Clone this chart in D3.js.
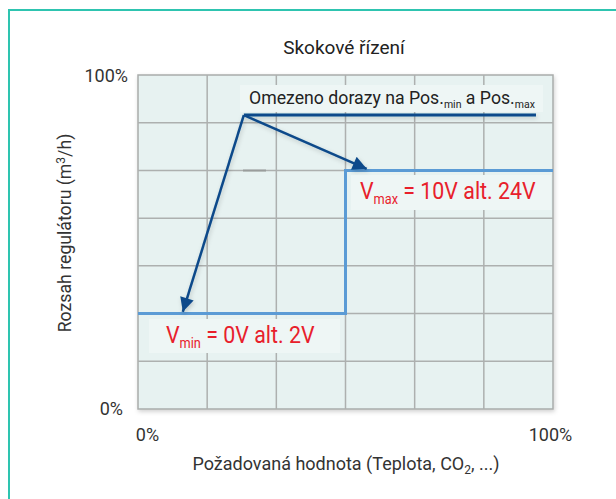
<!DOCTYPE html>
<html>
<head>
<meta charset="utf-8">
<script src="https://cdn.jsdelivr.net/npm/d3@7"></script>
<style>
  body { margin: 0; background: #fff; }
  svg { display: block; font-family: Roboto, "Noto Sans", sans-serif; }
</style>
</head>
<body>
<div id="chart"></div>
<script>
'use strict';

// data (percent of range)
var xTickLabels = ["0%", "100%"];
var yTickLabels = ["0%", "100%"];
var xGridCount = 6;
var yGridCount = 7;
var stepX = [0, 50, 50, 100];
var stepY = [28.6, 28.6, 71.4, 71.4];
var limitX = [25.5, 95.9];
var limitY = [88, 88];
var arrowFrom = [25.5, 88];
var arrowTo = [[10.8, 29.1], [55.1, 71.9]];

function stepChart() {
    var scope = {};
    scope.w = 616;
    scope.h = 499;
    scope.plot = {left: 138, top: 75, right: 553, bottom: 409};
    scope.xScale = d3.scaleLinear().domain([0, 100]).range([scope.plot.left, scope.plot.right]);
    scope.yScale = d3.scaleLinear().domain([0, 100]).range([scope.plot.bottom, scope.plot.top]);

    scope.appendSvg = function(div) {
        var svg = d3.select(div).append("svg")
            .attr("width", scope.w)
            .attr("height", scope.h);
        var defs = svg.append("defs");
        var f = defs.append("filter").attr("id", "shadow")
            .attr("x", "-20%").attr("y", "-20%").attr("width", "140%").attr("height", "160%");
        f.append("feDropShadow").attr("dx", 1).attr("dy", 2).attr("stdDeviation", 2)
            .attr("flood-color", "#000").attr("flood-opacity", 0.18);
        var m = defs.append("marker").attr("id", "arrow")
            .attr("viewBox", "0 0 10 10").attr("refX", 10).attr("refY", 5)
            .attr("markerWidth", 8).attr("markerHeight", 5.6)
            .attr("markerUnits", "strokeWidth")
            .attr("orient", "auto");
        m.append("path").attr("d", "M0,0L10,5L0,10Z").attr("fill", "#0b4a8a");
        return svg;
    };

    scope.appendFrame = function(svg) {
        svg.append("path")
            .attr("d", "M9,499V10H616")
            .attr("fill", "none")
            .attr("stroke", "#2ec4b0")
            .attr("stroke-width", 2);
    };

    scope.appendGrid = function(svg) {
        var p = scope.plot;
        svg.append("rect")
            .attr("x", p.left).attr("y", p.top)
            .attr("width", p.right - p.left).attr("height", p.bottom - p.top)
            .attr("fill", "#e7f2f1")
            .attr("stroke", "#a9acab").attr("stroke-width", 1.5)
            .attr("filter", "url(#shadow)");

        var xs = d3.range(1, xGridCount).map(function(i) { return i * 100 / xGridCount; });
        var ys = d3.range(1, yGridCount).map(function(i) { return i * 100 / yGridCount; });
        var grid = svg.append("g").attr("stroke", "#adb0af").attr("stroke-width", 1.5);
        grid.selectAll(".vx").data(xs).enter().append("line")
            .attr("x1", scope.xScale).attr("x2", scope.xScale)
            .attr("y1", p.top).attr("y2", p.bottom);
        grid.selectAll(".hy").data(ys).enter().append("line")
            .attr("y1", scope.yScale).attr("y2", scope.yScale)
            .attr("x1", p.left).attr("x2", p.right);
    };

    scope.appendAxes = function(svg) {
        var p = scope.plot;
        var xAxis = d3.axisBottom(scope.xScale).tickValues([0, 100])
            .tickFormat(function(d, i) { return xTickLabels[i]; }).tickSize(0).tickPadding(19);
        var gx = svg.append("g").attr("transform", "translate(0," + p.bottom + ")").call(xAxis);
        gx.select(".domain").remove();
        gx.selectAll("text").attr("font-size", 18).attr("fill", "#333").attr("font-family", "Roboto")
            .attr("dx", function(d) { return d === 0 ? 9 : -3; });

        var yAxis = d3.axisLeft(scope.yScale).tickValues([0, 100])
            .tickFormat(function(d, i) { return yTickLabels[i]; }).tickSize(0).tickPadding(10);
        var gy = svg.append("g").attr("transform", "translate(" + p.left + ",0)").call(yAxis);
        gy.select(".domain").remove();
        gy.selectAll("text").attr("font-size", 18).attr("fill", "#333").attr("font-family", "Roboto")
            .attr("dx", function(d) { return d === 0 ? -5 : 0; })
            .attr("dy", function(d) { return d === 0 ? "0.3em" : "0.35em"; });

        svg.append("text")
            .attr("x", 344).attr("y", 54)
            .attr("text-anchor", "middle")
            .attr("font-size", 19).attr("fill", "#222")
            .text("Skokové řízení");

        var xt = svg.append("text")
            .attr("x", 346).attr("y", 470)
            .attr("text-anchor", "middle")
            .attr("font-size", 18).attr("fill", "#333");
        xt.append("tspan").text("Požadovaná hodnota (Teplota, CO");
        xt.append("tspan").attr("font-size", 12).attr("dy", 4).text("2");
        xt.append("tspan").attr("dy", -4).text(", ...)");

        var yt = svg.append("text")
            .attr("transform", "translate(71,233) rotate(-90)")
            .attr("text-anchor", "middle")
            .attr("font-size", 17.7).attr("fill", "#333");
        yt.append("tspan").text("Rozsah regulátoru (m");
        yt.append("tspan").attr("font-size", 12).attr("dy", -6).text("3");
        yt.append("tspan").attr("dy", 6).text("/h)");
    };

    scope.appendBoxes = function(svg) {
        var boxes = [
            {x: 240, y: 85, w: 303, h: 27},
            {x: 149, y: 319, w: 191, h: 34},
            {x: 351, y: 175, w: 200, h: 35}
        ];
        svg.selectAll(".box").data(boxes).enter().append("rect")
            .attr("x", function(d) { return d.x; }).attr("y", function(d) { return d.y; })
            .attr("width", function(d) { return d.w; }).attr("height", function(d) { return d.h; })
            .attr("fill", "#eef6f5");
    };

    scope.appendLines = function(svg) {
        var line = d3.line()
            .x(function(d) { return scope.xScale(d[0]); })
            .y(function(d) { return scope.yScale(d[1]); });

        svg.append("line")
            .attr("x1", 243).attr("x2", 266).attr("y1", scope.yScale(71.4)).attr("y2", scope.yScale(71.4))
            .attr("stroke", "#9a9d9c").attr("stroke-width", 2);

        svg.append("path")
            .datum(d3.zip(stepX, stepY))
            .attr("d", line)
            .attr("fill", "none")
            .attr("stroke", "#5b9bd5")
            .attr("stroke-width", 3);

        var arrows = svg.append("g").attr("filter", "url(#shadow)");
        arrows.append("path")
            .datum(d3.zip(limitX, limitY))
            .attr("d", line)
            .attr("fill", "none")
            .attr("stroke", "#0b4a8a")
            .attr("stroke-width", 3);

        arrows.selectAll(".arr").data(arrowTo).enter().append("path")
            .attr("d", function(d) { return line([arrowFrom, d]); })
            .attr("fill", "none")
            .attr("stroke", "#0b4a8a")
            .attr("stroke-width", 2.5)
            .attr("marker-end", "url(#arrow)");
    };

    scope.appendLabels = function(svg) {
        var t = svg.append("text")
            .attr("x", 249).attr("y", 104)
            .attr("font-size", 17.7).attr("fill", "#222");
        t.append("tspan").text("Omezeno dorazy na Pos.");
        t.append("tspan").attr("font-size", 10.5).attr("dy", 4).text("min");
        t.append("tspan").attr("dy", -4).text(" a  Pos.");
        t.append("tspan").attr("font-size", 10.5).attr("dy", 4).text("max");

        var red = "#e8202b";
        var t1 = svg.append("text")
            .attr("transform", "translate(360,199) scale(0.91,1)")
            .attr("font-size", 23.5).attr("fill", red);
        t1.append("tspan").text("V");
        t1.append("tspan").attr("font-size", 14).attr("dy", 5).text("max");
        t1.append("tspan").attr("dy", -5).text(" = 10V alt. 24V");

        var t2 = svg.append("text")
            .attr("transform", "translate(166,343) scale(0.91,1)")
            .attr("font-size", 23.5).attr("fill", red);
        t2.append("tspan").text("V");
        t2.append("tspan").attr("font-size", 14).attr("dy", 5).text("min");
        t2.append("tspan").attr("dy", -5).text(" = 0V alt. 2V");
    };

    var exports = {};
    exports.run = function(div) {
        var svg = scope.appendSvg(div);
        scope.appendFrame(svg);
        scope.appendGrid(svg);
        scope.appendBoxes(svg);
        scope.appendLines(svg);
        scope.appendLabels(svg);
        scope.appendAxes(svg);
    };
    return exports;
}

stepChart().run("#chart");
</script>
</body>
</html>
